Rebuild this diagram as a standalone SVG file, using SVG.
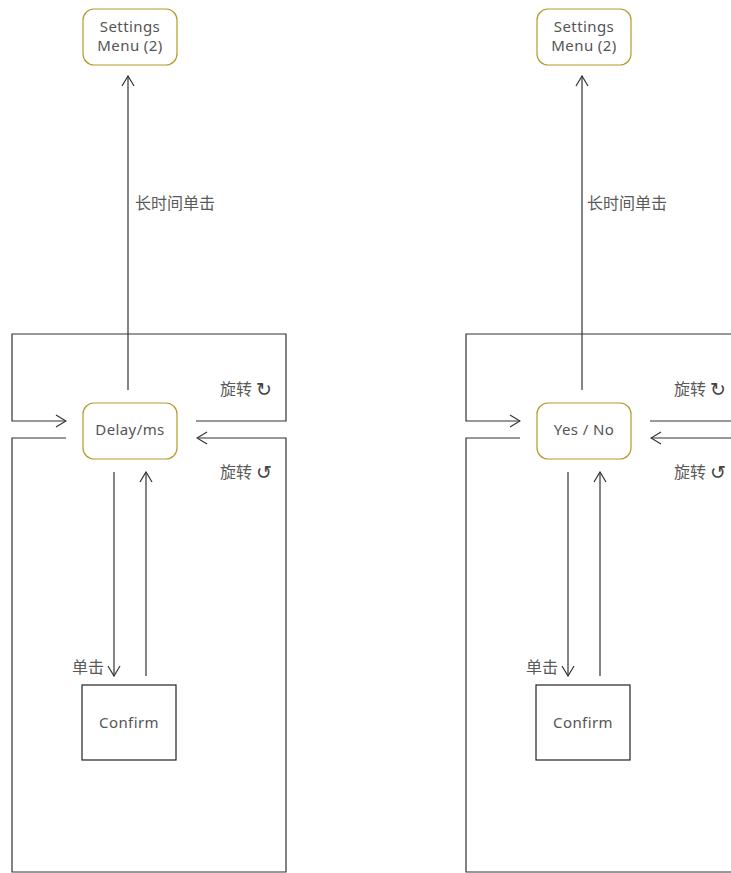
<svg xmlns="http://www.w3.org/2000/svg" width="731" height="873" viewBox="0 0 731 873">
<style>
.n{fill:#fff;stroke:#b59a2a;stroke-width:1.2}
.c{fill:#fff;stroke:#222;stroke-width:1.2}
.t{font-family:"Noto Sans","DejaVu Sans",sans-serif;font-size:15px;letter-spacing:0.4px;fill:#555;text-anchor:middle}
.z{font-family:"Noto Sans CJK SC",sans-serif;font-size:16px;fill:#5a5a5a}
.i{font-family:"DejaVu Sans",sans-serif;font-size:19px;fill:#444}
.l{fill:none;stroke:#333;stroke-width:1.2}
</style>
<defs>
<marker id="a" viewBox="0 0 12 14" refX="11" refY="7" markerWidth="12" markerHeight="14" markerUnits="userSpaceOnUse" orient="auto">
<path d="M1 1 L11 7 L1 13" fill="none" stroke="#333" stroke-width="1.2"/>
</marker>
</defs>
<g id="connectors">
<path class="l" d="M128 390 V76" marker-end="url(#a)"/>
<path class="l" d="M196 421 H286 V334 H12 V421 H66" marker-end="url(#a)"/>
<path class="l" d="M66 438 H12 V872 H286 V438 H197" marker-end="url(#a)"/>
<path class="l" d="M114 472 V676" marker-end="url(#a)"/>
<path class="l" d="M146 676 V472" marker-end="url(#a)"/>
<path class="l" d="M582 390 V76" marker-end="url(#a)"/>
<path class="l" d="M650 421 H740 V334 H466 V421 H520" marker-end="url(#a)"/>
<path class="l" d="M520 438 H466 V872 H740 V438 H651" marker-end="url(#a)"/>
<path class="l" d="M568 472 V676" marker-end="url(#a)"/>
<path class="l" d="M600 676 V472" marker-end="url(#a)"/>
</g>
<g id="labels">
<text class="z" x="135" y="209">长时间单击</text>
<text class="z" x="220" y="395">旋转</text><text class="i" x="256" y="396">↻</text>
<text class="z" x="220" y="478">旋转</text><text class="i" x="256" y="479">↺</text>
<text class="z" x="72" y="673">单击</text>
<text class="z" x="587" y="209">长时间单击</text>
<text class="z" x="674" y="395">旋转</text><text class="i" x="710" y="396">↻</text>
<text class="z" x="674" y="478">旋转</text><text class="i" x="710" y="479">↺</text>
<text class="z" x="526" y="673">单击</text>
</g>
<g id="settings1"><rect class="n" x="83" y="9" width="94" height="56" rx="11"/><text class="t" x="130" y="32">Settings</text><text class="t" x="130" y="51">Menu (2)</text></g>
<g id="delay"><rect class="n" x="83" y="403" width="94" height="56" rx="11"/><text class="t" x="130" y="435">Delay/ms</text></g>
<g id="confirm1"><rect class="c" x="82" y="685" width="94" height="75"/><text class="t" x="129" y="728">Confirm</text></g>
<g id="settings2"><rect class="n" x="537" y="9" width="94" height="56" rx="11"/><text class="t" x="584" y="32">Settings</text><text class="t" x="584" y="51">Menu (2)</text></g>
<g id="yesno"><rect class="n" x="537" y="403" width="94" height="56" rx="11"/><text class="t" x="584" y="435">Yes / No</text></g>
<g id="confirm2"><rect class="c" x="536" y="685" width="94" height="75"/><text class="t" x="583" y="728">Confirm</text></g>
</svg>
